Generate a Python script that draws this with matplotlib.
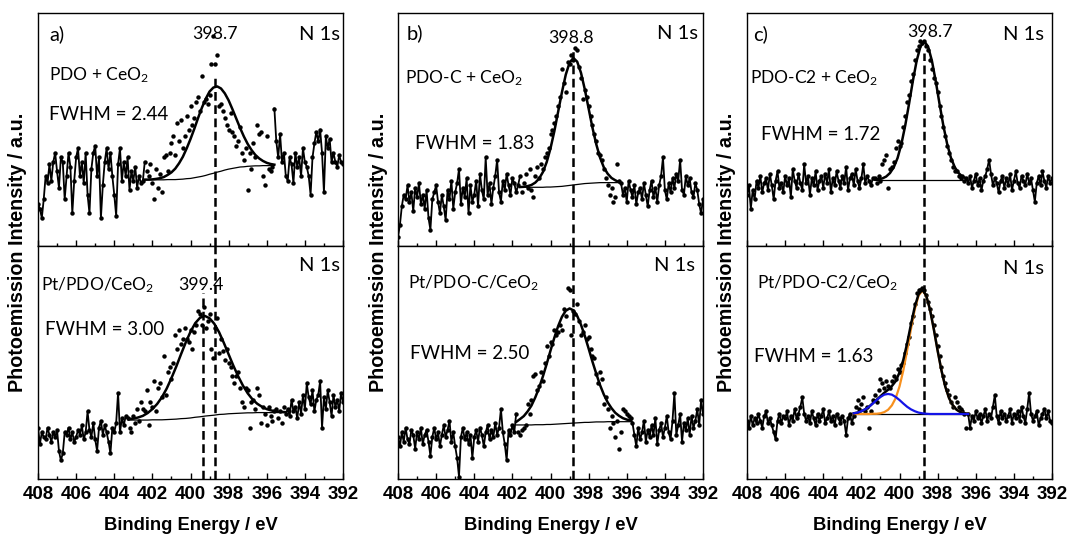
import numpy as np
import matplotlib.pyplot as plt
from matplotlib.ticker import MultipleLocator

plt.rcParams['font.family'] = ['Lato', 'DejaVu Sans']
plt.rcParams['mathtext.fontset'] = 'custom'
plt.rcParams['mathtext.rm'] = 'Lato'
plt.rcParams['mathtext.it'] = 'Lato:italic'

# binding energy grid of the spectra (eV), 0.1 eV steps from 408 to 392
energy = np.round(np.arange(408.0, 391.95, -0.1), 1)

# ---- measured counts (normalised intensity, 0-100 per panel) ----
counts_a_top = [
    18, 16, 12, 20, 30, 27, 35, 28, 36, 40, 32, 25, 38, 36, 20, 30, 40, 34, 14, 28,
    38, 42, 30, 36, 27, 40, 22, 14, 33, 40, 43, 30, 38, 12, 26, 36, 42, 33, 40, 30,
    22, 13, 35, 42, 28, 36, 30, 38, 24, 32, 28, 34, 25, 30, 27, 28,
    36, 32, 30, 35, 27, 20, 33, 25, 31, 23, 38, 39, 32, 40, 44, 47, 39, 53, 45, 54,
    42, 47, 56, 50, 60, 52, 55, 62, 64, 58, 73, 62, 63, 61, 65, 78, 90, 78, 82, 60,
    61, 58, 55, 52, 50, 57, 49, 47, 43, 45, 51, 40, 37, 42, 24, 40, 33, 44, 38, 52,
    48, 49, 30, 26, 47, 33, 32, 34,
    59, 45, 38, 48, 36, 40, 30, 28, 38, 35, 27, 40, 34, 38, 30, 42, 36, 34, 30, 22,
    38, 44, 49, 45, 50, 40, 23, 47, 42, 46, 36, 40, 36, 34, 39, 36, 35]
counts_a_bot = [
    22, 15, 20, 18, 17, 22, 19, 16, 20, 18, 21, 12, 8, 11, 20, 19, 22, 17, 20, 16,
    18, 21, 19, 23, 17, 20, 29, 21, 18, 24, 17, 12, 22, 25, 19, 23, 20, 16, 11, 22,
    20, 24, 37, 20, 26, 23, 27,
    26, 22, 20, 27, 24, 30, 25, 33, 30, 29, 38, 23, 33, 31, 42, 29, 39, 41, 35, 53,
    36, 46, 48, 43, 50, 62, 56, 64, 58, 60, 65, 60, 59, 64, 56, 63, 66, 72, 71, 66,
    74, 65, 68, 71, 56, 52, 65, 69, 54, 60, 55, 51, 56, 50, 48, 44, 41, 44, 46, 39,
    33, 31, 39, 38, 22, 33, 34, 30, 39, 36, 24, 31, 28, 23, 31, 27, 25, 29, 30, 26,
    29, 24, 31, 28,
    30, 27, 34, 29, 31, 26, 33, 28, 36, 30, 41, 35, 32, 38, 29, 34, 36, 42, 22, 35,
    30, 38, 33, 27, 36, 31, 34, 29, 37, 33]
counts_b_top = [
    4, 9, 17, 22, 20, 26, 19, 23, 15, 25, 21, 27, 18, 22, 16, 24, 12, 7, 20, 23,
    26, 19, 14, 22, 17, 11, 24, 20, 28, 16, 23, 27, 33, 18, 25, 21, 29, 14, 26, 19,
    22, 28, 17, 31, 24, 20, 38, 22, 27, 18, 25, 30, 37, 23, 19, 28, 24, 31, 26, 22,
    29, 27, 23, 26,
    30, 23, 27, 31, 25, 33, 24, 21, 30, 34, 29, 35, 33, 38, 40, 42, 48, 50, 53, 56,
    60, 64, 76, 70, 66, 79, 78, 82, 80, 85, 84, 77, 72, 63, 67, 64, 60, 56, 52, 48,
    45, 40, 39, 37, 33, 29, 26, 22, 25, 19, 21, 35, 28,
    27, 22, 25, 19, 28, 24, 21, 26, 18, 23, 25, 20, 27, 22, 17, 24, 28, 21, 25, 19,
    26, 30, 38, 24, 20, 27, 23, 29, 25, 31, 28, 37, 24, 22, 30, 26, 29, 23, 21, 27,
    24, 18, 14, 20]
counts_b_bot = [
    18, 14, 20, 16, 22, 17, 15, 21, 19, 13, 20, 17, 22, 15, 19, 21, 16, 10, 18, 22,
    17, 20, 14, 19, 23, 18, 21, 25, 16, 20, 14, 9, 1, 18, 22, 17, 20, 15, 19, 9,
    18, 21, 16, 22, 19, 14, 20, 23, 17, 21, 18, 24, 19, 22, 30, 20, 15, 8, 21, 19,
    23, 20,
    28, 20, 19, 21, 22, 23, 32, 28, 34, 44, 45, 38, 40, 46, 42, 50, 57, 53, 59, 58,
    64, 62, 63, 66, 64, 73, 70, 82, 81, 62, 72, 71, 75, 68, 62, 63, 66, 60, 61, 56,
    53, 52, 45, 41, 46, 43, 32, 35, 30, 22, 27, 24, 18, 25, 13, 20, 30, 29, 28, 27,
    26,
    24, 19, 14, 22, 17, 20, 25, 16, 21, 18, 23, 19, 26, 15, 21, 24, 18, 22, 27, 20,
    17, 25, 37, 19, 23, 28, 16, 24, 21, 26, 19, 27, 22, 25, 30, 23, 34, 28]
counts_c_top = [
    22, 26, 16, 24, 20, 28, 25, 30, 23, 27, 29, 24, 31, 26, 20, 28, 32, 25, 27, 23,
    30, 26, 29, 21, 33, 28, 25, 31, 27, 24, 35, 27, 30, 22, 29, 26, 32, 24, 28, 30,
    25, 31, 27, 33, 23, 29, 26, 32, 28, 25, 30, 27, 34, 24, 29, 31, 26, 33, 28, 25,
    29, 35, 27, 30, 28, 26, 29,
    29, 27, 30, 28, 35, 37, 39, 25, 33, 34, 36, 42, 45, 43, 44, 51, 56, 62, 65, 71,
    74, 80, 84, 86, 88, 87, 88, 86, 84, 80, 76, 72, 70, 66, 60, 56, 51, 47, 43, 40,
    37, 34, 32, 32, 30, 29, 30, 28, 29,
    27, 30, 25, 28, 31, 26, 29, 24, 28, 30, 33, 37, 31, 26, 29, 27, 23, 28, 30, 25,
    29, 26, 31, 24, 28, 32, 27, 25, 30, 28, 26, 31, 27, 29, 24, 19, 27, 30, 26, 32,
    28, 25, 30, 27, 29]
counts_c_bot = [
    25, 22, 27, 23, 26, 24, 28, 25, 22, 27, 29, 24, 26, 23, 20, 17, 25, 28, 24, 27,
    26, 29, 23, 27, 25, 30, 26, 28, 31, 35, 28, 25, 27, 24, 29, 26, 23, 28, 25, 27,
    30, 24, 26, 29, 25, 27, 23, 28, 26, 24, 27, 25, 19, 26, 28, 24, 27,
    31, 34, 30, 32, 35, 29, 31, 22, 29, 34, 36, 33, 38, 43, 41, 39, 42, 40, 39, 42,
    44, 43, 47, 46, 49, 50, 54, 58, 61, 67, 70, 75, 80, 81, 81, 82, 81, 79, 76, 73,
    70, 66, 62, 57, 53, 48, 44, 41, 38, 36, 33, 31, 35, 33, 31, 30, 29, 28, 22, 28,
    22, 27, 25, 29, 26, 28, 24, 27, 30, 25, 28, 26, 31, 36, 27, 24, 29, 26, 28, 25,
    27, 30, 24, 28, 26, 29, 25, 31, 27, 24, 30, 37, 28, 25, 27, 29, 23, 26, 28, 30,
    26, 29, 25, 24]

# ---- fitted envelopes and backgrounds: (start eV, end eV, step) ----
fit_range_a_top = (402.4, 395.6, 0.2)
fit_a_top = [28.5, 28.5, 28.6, 28.8, 29.1, 29.6, 30.5, 31.6, 33.2, 35.5, 38.3, 41.9,
             45.9, 50.3, 55.0, 59.4, 63.2, 66.3, 68.0, 68.5, 67.6, 65.5, 62.5, 58.7,
             54.7, 50.7, 47.0, 43.8, 41.2, 39.1, 37.6, 36.5, 35.7, 35.2, 34.9]
bg_a_top = [28.4, 28.4, 28.4, 28.4, 28.4, 28.4, 28.5, 28.5, 28.5, 28.6, 28.7, 28.9,
            29.0, 29.3, 29.6, 29.9, 30.3, 30.8, 31.2, 31.7, 32.1, 32.6, 33.0, 33.3,
            33.6, 33.9, 34.0, 34.2, 34.3, 34.4, 34.4, 34.5, 34.5, 34.5, 34.5]

fit_range_a_bot = (403.25, 395.0, 0.25)
fit_a_bot = [25.7, 25.9, 26.4, 27.1, 28.3, 30.0, 32.2, 35.1, 38.8, 43.3, 48.2, 53.5,
             58.6, 63.2, 66.9, 69.2, 70.0, 69.0, 66.6, 63.0, 58.4, 53.5, 48.6, 44.1,
             40.1, 36.8, 34.2, 32.3, 31.0, 30.0, 29.4, 29.0, 28.8, 28.7]
bg_a_bot = [25.3, 25.3, 25.3, 25.3, 25.3, 25.4, 25.4, 25.4, 25.5, 25.6, 25.7, 25.9,
            26.0, 26.2, 26.5, 26.7, 27.0, 27.2, 27.4, 27.7, 27.8, 28.0, 28.1, 28.2,
            28.3, 28.4, 28.4, 28.5, 28.5, 28.5, 28.5, 28.5, 28.5, 28.5]

fit_range_b_top = (401.6, 396.4, 0.2)
fit_b_top = [25.3, 25.4, 25.7, 26.2, 27.2, 28.9, 31.7, 36.0, 41.9, 49.2, 57.6, 66.0,
             73.5, 78.7, 80.7, 79.1, 74.3, 67.2, 59.0, 50.8, 43.7, 37.9, 33.7, 31.0,
             29.2, 28.2, 27.4]
bg_b_top = [25.2, 25.2, 25.2, 25.2, 25.2, 25.2, 25.2, 25.3, 25.3, 25.4, 25.5, 25.6,
            25.8, 26.0, 26.2, 26.4, 26.6, 26.8, 26.9, 27.0, 27.1, 27.2, 27.2, 27.2,
            27.2, 27.2, 27.2]

fit_range_b_bot = (401.8, 395.8, 0.2)
fit_b_bot = [24.5, 25.7, 27.0, 29.0, 31.5, 35.0, 39.1, 44.0, 49.4, 55.1, 60.6, 65.6,
             69.6, 72.2, 73.2, 72.4, 70.0, 66.2, 61.4, 56.0, 50.4, 45.2, 40.3, 36.2,
             32.9, 30.4, 28.4, 27.1, 26.1, 25.5, 25.1]
bg_b_bot = [23.2, 23.2, 23.2, 23.2, 23.2, 23.3, 23.3, 23.3, 23.4, 23.4, 23.5, 23.6,
            23.7, 23.8, 23.9, 24.0, 24.1, 24.2, 24.3, 24.3, 24.4, 24.5, 24.5, 24.5,
            24.6, 24.6, 24.6, 24.6, 24.6, 24.6, 24.6]

fit_range_c_top = (401.3, 396.5, 0.2)
fit_c_top = [28.5, 28.7, 29.0, 29.8, 31.3, 33.8, 37.8, 43.8, 51.7, 61.0, 70.8, 79.5,
             85.6, 87.8, 85.6, 79.5, 70.8, 61.0, 51.7, 43.8, 37.8, 33.8, 31.3, 29.8,
             29.0]
bg_c_top = [28.4, 28.4, 28.4, 28.4, 28.4, 28.4, 28.4, 28.4, 28.4, 28.4, 28.4, 28.4,
            28.4, 28.4, 28.4, 28.4, 28.4, 28.4, 28.4, 28.4, 28.4, 28.4, 28.4, 28.4,
            28.4]

fit_range_c_bot = (402.4, 396.4, 0.2)
fit_c_bot = [28.2, 28.5, 29.1, 29.9, 31.0, 32.5, 34.0, 35.5, 37.0, 38.3, 39.9, 42.0,
             45.7, 51.1, 58.2, 66.3, 73.9, 79.3, 81.2, 78.8, 72.7, 64.3, 55.1, 46.6,
             39.7, 34.7, 31.6, 29.7, 28.7, 28.2, 28.0]
peak1_c_bot = [27.9, 27.9, 27.9, 27.9, 27.9, 28.0, 28.0, 28.2, 28.7, 29.7, 31.6, 34.7,
               39.7, 46.6, 55.1, 64.3, 72.7, 78.7, 80.9, 78.7, 72.7, 64.3, 55.1, 46.6,
               39.7, 34.7, 31.6, 29.7, 28.7, 28.2, 28.0]
peak2_c_bot = [28.2, 28.5, 29.1, 29.9, 31.0, 32.4, 33.9, 35.2, 36.2, 36.5, 36.2, 35.2,
               33.9, 32.4, 31.0, 29.9, 29.1, 28.5, 28.2, 28.0, 27.9, 27.9, 27.9, 27.9,
               27.9, 27.9, 27.9, 27.9, 27.9, 27.9, 27.9]
bg_c_bot = [27.9, 27.9, 27.9, 27.9, 27.9, 27.9, 27.9, 27.9, 27.9, 27.9, 27.9, 27.9,
            27.9, 27.9, 27.9, 27.9, 27.9, 27.9, 27.9, 27.9, 27.9, 27.9, 27.9, 27.9,
            27.9, 27.9, 27.9, 27.9, 27.9, 27.9, 27.9]

samples = ['PDO + CeO$_2$', 'Pt/PDO/CeO$_2$', 'PDO-C + CeO$_2$', 'Pt/PDO-C/CeO$_2$',
           'PDO-C2 + CeO$_2$', 'Pt/PDO-C2/CeO$_2$']
fwhm = ['2.44', '3.00', '1.83', '2.50', '1.72', '1.63']
letters = ['a)', 'b)', 'c)']
peak_pos = [398.7, 398.8, 398.7]
peak_pos_pt = 399.4

# ---- layout (pixels of a 1070 x 535 figure) ----
W, H = 1070, 535
col_left = [38, 398, 747]
col_w = 305
row_top = [13, 246]
row_h = 233

fig = plt.figure(figsize=(10.7, 5.35), dpi=100)

dash = (0, (3.5, 1.8))


def fit_grid(rng, n):
    start, stop, step = rng
    return np.linspace(start, stop, n)


def draw(ax, counts, rng, env, bg, bottom):
    e_fit = fit_grid(rng, len(env))
    c = np.array(counts)
    left = energy >= rng[0] - 1e-6
    right = energy <= rng[1] + 1e-6
    ax.plot(energy[left], c[left], color='k', lw=1.3)
    ax.plot(energy[right], c[right], color='k', lw=1.3)
    ax.plot(energy, c, 'o', color='k', ms=3.2, mew=0)
    ax.plot(e_fit, bg, color='k', lw=0.9)
    ax.plot(e_fit, env, color='k', lw=1.8, zorder=4)
    ax.set_xlim(408, 392)
    ax.set_ylim(0, 100)
    ax.set_xticks(np.arange(408, 391, -2))
    ax.xaxis.set_minor_locator(MultipleLocator(1))
    ax.tick_params(axis='x', which='major', direction='in', length=4, width=1.0,
                   pad=5, labelbottom=bottom)
    ax.tick_params(axis='x', which='minor', direction='in', length=2.2, width=1.0)
    ax.tick_params(axis='y', left=False, labelleft=False)
    for lab in ax.get_xticklabels():
        lab.set_fontfamily('Liberation Sans')
        lab.set_fontweight('bold')
        lab.set_fontsize(13.5)
    for sp in ax.spines.values():
        sp.set_linewidth(1.0)
    return e_fit


spectra = [
    (counts_a_top, fit_range_a_top, fit_a_top, bg_a_top),
    (counts_a_bot, fit_range_a_bot, fit_a_bot, bg_a_bot),
    (counts_b_top, fit_range_b_top, fit_b_top, bg_b_top),
    (counts_b_bot, fit_range_b_bot, fit_b_bot, bg_b_bot),
    (counts_c_top, fit_range_c_top, fit_c_top, bg_c_top),
    (counts_c_bot, fit_range_c_bot, fit_c_bot, bg_c_bot),
]

# text placement in axes fractions
letter_xy = [(0.036, 0.907), (0.027, 0.912), (0.020, 0.907)]
pos_xy = [(0.581, 0.91), (0.566, 0.893), (0.600, 0.92)]
sample_xy = [(0.036, 0.735), (0.011, 0.833), (0.022, 0.72), (0.033, 0.84),
             (0.009, 0.72), (0.033, 0.84)]
fwhm_xy = [(0.036, 0.563), (0.022, 0.64), (0.055, 0.441), (0.038, 0.54),
           (0.047, 0.477), (0.022, 0.525)]
n1s_xy = [(0.989, 0.907), (0.989, 0.918), (0.982, 0.912), (0.975, 0.918),
          (0.973, 0.907), (0.973, 0.904)]
dash_top = [0.728, 0.84, 0.828]

for col in range(3):
    for row in range(2):
        k = col * 2 + row
        l = col_left[col] / W
        b = 1 - (row_top[row] + row_h) / H
        ax = fig.add_axes([l, b, col_w / W, row_h / H])
        counts, rng, env, bg = spectra[k]
        e_fit = draw(ax, counts, rng, env, bg, bottom=(row == 1))
        if k == 5:
            ax.plot(e_fit, peak1_c_bot, color='#F7901E', lw=1.6, zorder=3)
            ax.plot(e_fit, peak2_c_bot, color='#1414E6', lw=1.6, zorder=5)
        ax.text(*n1s_xy[k], 'N 1s', transform=ax.transAxes, ha='right',
                va='center', fontsize=14.5)
        ax.text(*sample_xy[k], samples[k], transform=ax.transAxes, ha='left',
                va='center', fontsize=12.5)
        ax.text(*fwhm_xy[k], 'FWHM = ' + fwhm[k], transform=ax.transAxes,
                ha='left', va='center', fontsize=13.5)
        if row == 0:
            ax.text(*letter_xy[col], letters[col], transform=ax.transAxes,
                    ha='left', va='center', fontsize=14.5)
            ax.text(*pos_xy[col], f'{peak_pos[col]:.1f}', transform=ax.transAxes,
                    ha='center', va='center', fontsize=12.8)
            ax.axvline(peak_pos[col], 0, dash_top[col], color='k', lw=1.8, ls=dash)
        else:
            ax.axvline(peak_pos[col], 0, 1, color='k', lw=1.8, ls=dash)
            if col == 0:
                ax.axvline(peak_pos_pt - 0.05, 0, 0.797, color='k', lw=1.8, ls=dash)
                ax.text(0.535, 0.833, f'{peak_pos_pt:.1f}', transform=ax.transAxes,
                        ha='center', va='center', fontsize=12.8)
    cx = (col_left[col] + col_w / 2) / W
    fig.text(cx, 1 - 525 / H, 'Binding Energy / eV', ha='center', va='center',
             fontsize=13.2, fontweight='bold', family='Liberation Sans')
    fig.text((col_left[col] - 20) / W, 1 - 252 / H, 'Photoemission Intensity / a.u.',
             rotation=90, ha='center', va='center', fontsize=14.2,
             fontweight='bold', family='Liberation Sans')

fig.savefig('out.png', dpi=100)
